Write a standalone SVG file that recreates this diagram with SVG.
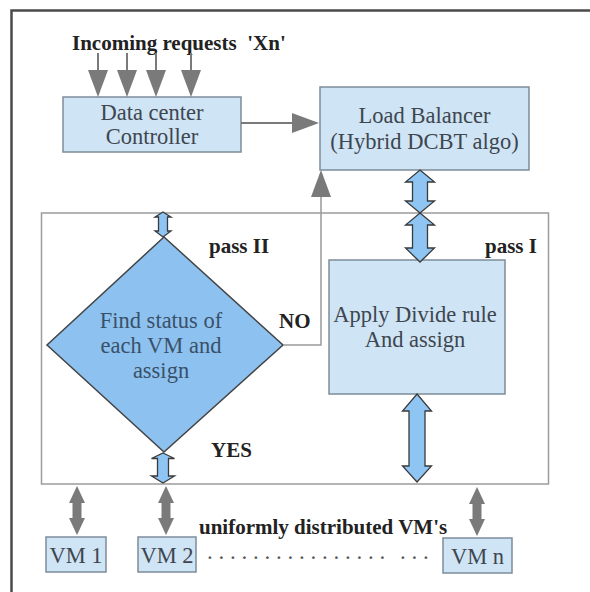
<svg xmlns="http://www.w3.org/2000/svg" width="590" height="592" viewBox="0 0 590 592">
  <defs>
    <style>
      .box { fill: #cfe4f4; stroke: #7d8c99; stroke-width: 1.5; }
      .lbl { font-family: "Liberation Serif", "DejaVu Serif", serif; font-weight: normal; font-size: 22.5px; fill: #3e4650; text-anchor: middle; }
      .dlbl { font-family: "Liberation Serif", "DejaVu Serif", serif; font-weight: normal; font-size: 22.5px; fill: #3a5068; text-anchor: middle; }
      .bold { font-family: "Liberation Serif", "DejaVu Serif", serif; font-size: 21px; font-weight: bold; fill: #222; }
      .dots { font-family: "Liberation Serif", "DejaVu Serif", serif; font-weight: normal; font-size: 23px; fill: #555; }
      .gline { fill: none; stroke: #7a7a7a; stroke-width: 2; }
      .vmlink { fill: none; stroke: #7a7a7a; stroke-width: 9; }
      .thin { fill: none; stroke: #999; stroke-width: 1.5; }
      .fat { fill: #8ec5f3; stroke: #3a3a3a; stroke-width: 1.3; stroke-linejoin: miter; }
    </style>
    <marker id="head" markerUnits="userSpaceOnUse" markerWidth="28" markerHeight="20" refX="0" refY="10" orient="auto-start-reverse" viewBox="0 0 28 20">
      <path d="M0,0 L27,10 L0,20 Z" fill="#7a7a7a"/>
    </marker>
    <marker id="vmhead" markerUnits="userSpaceOnUse" markerWidth="18" markerHeight="16" refX="0" refY="8" orient="auto-start-reverse" viewBox="0 0 18 16">
      <path d="M0,0 L17,8 L0,16 Z" fill="#7a7a7a"/>
    </marker>
  </defs>

  <rect x="0" y="0" width="590" height="592" fill="#ffffff"/>

  <!-- page border -->
  <path d="M11.5,592 L11.5,10.5 L590,10.5" fill="none" stroke="#4a4a4a" stroke-width="2.5"/>

  <!-- process frame -->
  <rect x="41.5" y="213" width="507" height="271" fill="none" stroke="#9c9c9c" stroke-width="1.5"/>

  <text class="bold" x="72" y="50" style="white-space: pre">Incoming requests  'Xn'</text>

  <g id="controller">
    <rect class="box" x="63" y="97" width="178" height="55"/>
    <text class="lbl" x="152" y="120">Data center</text>
    <text class="lbl" x="152" y="144">Controller</text>
  </g>

  <g id="load-balancer">
    <rect class="box" x="320" y="87" width="209" height="83"/>
    <text class="lbl" x="424.5" y="123">Load Balancer</text>
    <text class="lbl" x="424.5" y="149">(Hybrid DCBT algo)</text>
  </g>

  <g id="divide-rule">
    <rect class="box" x="329" y="260" width="176" height="134"/>
    <text class="lbl" x="415" y="322">Apply Divide rule</text>
    <text class="lbl" x="415" y="347">And assign</text>
    <text class="bold" x="485" y="253">pass I</text>
  </g>

  <g id="vm-status">
    <polygon points="164,237 283,345 164,452 47,345" fill="#8dc2f0" stroke="#444" stroke-width="1.5"/>
    <text class="dlbl" x="161" y="328">Find status of</text>
    <text class="dlbl" x="161" y="353">each VM and</text>
    <text class="dlbl" x="161" y="378">assign</text>
    <text class="bold" x="209" y="253">pass II</text>
  </g>

  <g id="vm1">
    <rect class="box" x="46" y="537" width="60" height="35"/>
    <text class="lbl" x="76" y="563">VM 1</text>
  </g>
  <g id="vm2">
    <rect class="box" x="138" y="537" width="58" height="35"/>
    <text class="lbl" x="167" y="563">VM 2</text>
  </g>
  <g id="vmn">
    <rect class="box" x="443" y="538" width="69" height="35"/>
    <text class="lbl" x="477.5" y="564">VM n</text>
  </g>

  <text class="bold" x="199" y="534">uniformly distributed VM's</text>
  <text class="dots" x="207" y="559">. . . . . . . . . . . . . . . .</text>
  <text class="dots" x="400" y="559">. . .</text>

  <g id="connectors">
    <!-- incoming requests -->
    <line class="gline" x1="98" y1="53" x2="98" y2="70" marker-end="url(#head)"/>
    <line class="gline" x1="127" y1="53" x2="127" y2="70" marker-end="url(#head)"/>
    <line class="gline" x1="156" y1="53" x2="156" y2="70" marker-end="url(#head)"/>
    <line class="gline" x1="191" y1="53" x2="191" y2="70" marker-end="url(#head)"/>
    <!-- controller to balancer -->
    <line class="gline" x1="241" y1="123" x2="292" y2="123" marker-end="url(#head)"/>
    <!-- NO branch back to balancer -->
    <polyline class="thin" points="283,345 321,345 321,197" marker-end="url(#head)"/>
    <text class="bold" x="279" y="328">NO</text>
    <text class="bold" x="211" y="457">YES</text>

    <!-- wide two-way arrows -->
    <path class="fat" d="M420,170 L434.5,182 L427.5,182 L427.5,201 L434.5,201 L420,213 L405.5,201 L412.5,201 L412.5,182 L405.5,182 Z"/>
    <path class="fat" d="M420,213 L434.5,225 L427.5,225 L427.5,248 L434.5,248 L420,262 L405.5,248 L412.5,248 L412.5,225 L405.5,225 Z"/>
    <path class="fat" d="M417,394 L431.5,411 L425,411 L425,466 L431.5,466 L417,482 L402.5,466 L409,466 L409,411 L402.5,411 Z"/>
    <path class="fat" d="M163,212 L171,217 L167.5,217 L167.5,231 L171,231 L163,237 L155,231 L158.5,231 L158.5,217 L155,217 Z"/>
    <path class="fat" d="M163,453 L174.5,458.5 L168.5,458.5 L168.5,476 L174.5,476 L163,483 L151.5,476 L157.5,476 L157.5,458.5 L151.5,458.5 Z"/>

    <!-- VM links -->
    <line class="vmlink" x1="77" y1="503" x2="77" y2="518" marker-start="url(#vmhead)" marker-end="url(#vmhead)"/>
    <line class="vmlink" x1="166" y1="503" x2="166" y2="518" marker-start="url(#vmhead)" marker-end="url(#vmhead)"/>
    <line class="vmlink" x1="477" y1="504" x2="477" y2="519" marker-start="url(#vmhead)" marker-end="url(#vmhead)"/>
  </g>
</svg>
